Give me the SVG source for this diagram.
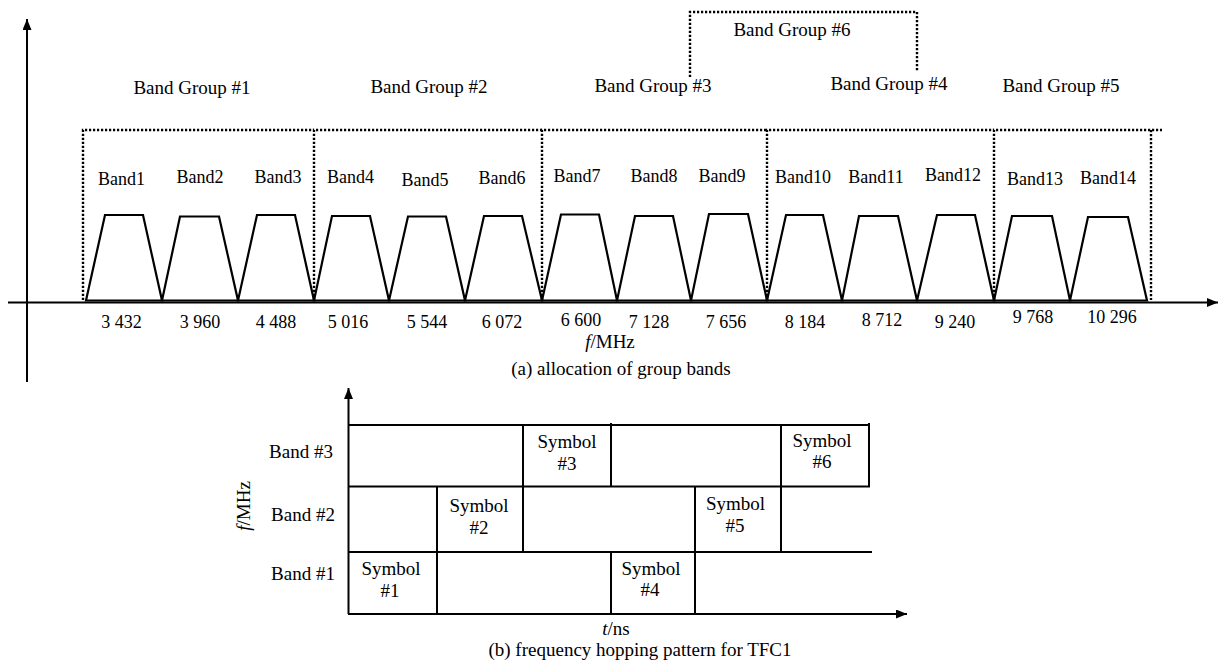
<svg xmlns="http://www.w3.org/2000/svg" width="1218" height="666" viewBox="0 0 1218 666">
<defs>
<marker id="arr" markerUnits="userSpaceOnUse" markerWidth="12" markerHeight="10" refX="11" refY="4.5" orient="auto">
<path d="M0,0 L11,4.5 L0,9 z" fill="#000"/>
</marker>
<style>
text{font-family:"Liberation Serif","Times New Roman",serif;fill:#000;}
.t18{font-size:18px;text-anchor:middle;}
.t19{font-size:19px;text-anchor:middle;}
.ax{stroke:#000;stroke-width:2;fill:none;}
.trap{stroke:#000;stroke-width:2.2;fill:none;stroke-linejoin:miter;}
.dot{stroke:#000;stroke-width:2.4;stroke-dasharray:2.2 1.8;fill:none;}
.grid{stroke:#000;stroke-width:2;fill:none;}
</style>
</defs>
<rect width="1218" height="666" fill="#fff"/>

<g id="connectors">
<line class="ax" x1="27" y1="382" x2="27" y2="19" marker-end="url(#arr)"/>
<line class="ax" x1="8" y1="302.5" x2="1218" y2="302.5" marker-end="url(#arr)"/>
<line class="ax" x1="348.5" y1="614" x2="348.5" y2="388" marker-end="url(#arr)"/>
<line class="ax" x1="348" y1="614" x2="907" y2="614" marker-end="url(#arr)"/>
</g>

<g id="group-boxes">
<g id="bandgroup1"><path class="dot" d="M83,300 V130 H314"/><text class="t19" x="192" y="94">Band Group #1</text></g>
<g id="bandgroup2"><path class="dot" d="M314,300 V130 H542"/><text class="t19" x="429" y="93">Band Group #2</text></g>
<g id="bandgroup3"><path class="dot" d="M542,300 V130 H767"/><text class="t19" x="653" y="92">Band Group #3</text></g>
<g id="bandgroup4"><path class="dot" d="M767,300 V130 H994"/><text class="t19" x="889" y="90">Band Group #4</text></g>
<g id="bandgroup5"><path class="dot" d="M994,300 V130 H1162 M1151,130 V300"/><text class="t19" x="1061" y="92">Band Group #5</text></g>
<g id="bandgroup6"><path class="dot" d="M690,77 V12 H917 V72"/><text class="t19" x="792" y="36">Band Group #6</text></g>
</g>

<g id="bands">
<g id="band1"><path class="trap" d="M86,300.5 L105,215 H143 L162,300.5 Z"/><text class="t18" x="121.5" y="185">Band1</text><text class="t18" x="121.5" y="328">3 432</text></g>
<g id="band2"><path class="trap" d="M162,300.5 L180,216.5 H219 L238,300.5 Z"/><text class="t18" x="200" y="183">Band2</text><text class="t18" x="200" y="328">3 960</text></g>
<g id="band3"><path class="trap" d="M238,300.5 L257,215 H295 L314,300.5 Z"/><text class="t18" x="278" y="183">Band3</text><text class="t18" x="276" y="328">4 488</text></g>
<g id="band4"><path class="trap" d="M314,300.5 L332,216 H370 L389,300.5 Z"/><text class="t18" x="350.5" y="183">Band4</text><text class="t18" x="348" y="328">5 016</text></g>
<g id="band5"><path class="trap" d="M389,300.5 L408,216.5 H446 L465,300.5 Z"/><text class="t18" x="425" y="186">Band5</text><text class="t18" x="427" y="328">5 544</text></g>
<g id="band6"><path class="trap" d="M465,300.5 L484,216 H522 L542,300.5 Z"/><text class="t18" x="502" y="184">Band6</text><text class="t18" x="502" y="328">6 072</text></g>
<g id="band7"><path class="trap" d="M542,300.5 L561,214.5 H599 L617,300.5 Z"/><text class="t18" x="577" y="182">Band7</text><text class="t18" x="581" y="326">6 600</text></g>
<g id="band8"><path class="trap" d="M617,300.5 L635,216 H673 L691,300.5 Z"/><text class="t18" x="654" y="182">Band8</text><text class="t18" x="649" y="328">7 128</text></g>
<g id="band9"><path class="trap" d="M691,300.5 L709,214 H748 L767,300.5 Z"/><text class="t18" x="722" y="182">Band9</text><text class="t18" x="726" y="328">7 656</text></g>
<g id="band10"><path class="trap" d="M767,300.5 L786,215 H823 L842,300.5 Z"/><text class="t18" x="803" y="183">Band10</text><text class="t18" x="805" y="328">8 184</text></g>
<g id="band11"><path class="trap" d="M842,300.5 L859,216 H898 L917,300.5 Z"/><text class="t18" x="876" y="183">Band11</text><text class="t18" x="882" y="326">8 712</text></g>
<g id="band12"><path class="trap" d="M917,300.5 L937,215 H975 L994,300.5 Z"/><text class="t18" x="953" y="181">Band12</text><text class="t18" x="955" y="328">9 240</text></g>
<g id="band13"><path class="trap" d="M994,300.5 L1012,216 H1052 L1070,300.5 Z"/><text class="t18" x="1035" y="185">Band13</text><text class="t18" x="1033" y="323">9 768</text></g>
<g id="band14"><path class="trap" d="M1070,300.5 L1088,217 H1128 L1147,300.5 Z"/><text class="t18" x="1108" y="184">Band14</text><text class="t18" x="1112" y="323">10 296</text></g>
</g>

<g id="labels-a">
<text class="t19" x="610" y="348"><tspan font-style="italic">f</tspan>/MHz</text>
<text class="t19" x="621" y="375">(a) allocation of group bands</text>
</g>

<g id="hopping-grid">
<path class="grid" d="M348,425 H870 M348,486.5 H870 M348,552 H872"/>
<path class="grid" d="M523,425 V552 M611,423 V487 M611,552 V614 M437,487 V614 M695,487 V614 M781,425 V552 M869,423 V486"/>
</g>

<g id="band-labels-b">
<text class="t19" x="301" y="458">Band #3</text>
<text class="t19" x="303" y="521">Band #2</text>
<text class="t19" x="303" y="580">Band #1</text>
<text class="t19" transform="translate(250,506) rotate(-90)"><tspan font-style="italic">f</tspan>/MHz</text>
</g>

<g id="symbol1"><text class="t19" x="391" y="575">Symbol</text><text class="t19" x="390" y="597">#1</text></g>
<g id="symbol2"><text class="t19" x="479" y="512">Symbol</text><text class="t19" x="479" y="534">#2</text></g>
<g id="symbol3"><text class="t19" x="567" y="448">Symbol</text><text class="t19" x="567" y="470">#3</text></g>
<g id="symbol4"><text class="t19" x="651" y="575">Symbol</text><text class="t19" x="650" y="596">#4</text></g>
<g id="symbol5"><text class="t19" x="735.5" y="510">Symbol</text><text class="t19" x="735" y="532">#5</text></g>
<g id="symbol6"><text class="t19" x="822" y="447">Symbol</text><text class="t19" x="822" y="468">#6</text></g>

<g id="labels-b">
<text class="t19" x="616" y="635"><tspan font-style="italic">t</tspan>/ns</text>
<text class="t19" x="640" y="656">(b) frequency hopping pattern for TFC1</text>
</g>
</svg>
